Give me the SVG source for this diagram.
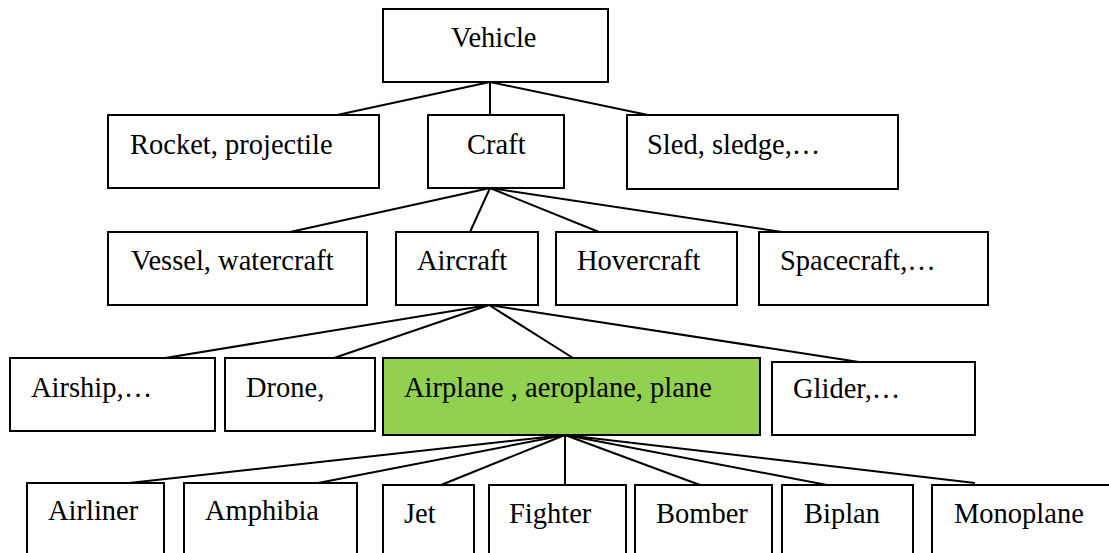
<svg xmlns="http://www.w3.org/2000/svg" width="1109" height="553" viewBox="0 0 1109 553">
<style>
.box{fill:#fff;stroke:#000;stroke-width:2}
.hl{fill:#92D050;stroke:#000;stroke-width:2}
.t{font-family:"Liberation Serif","Times New Roman",serif;font-size:28.5px;fill:#000}
.c line{stroke:#000;stroke-width:2}
</style>
<rect width="1109" height="553" fill="#fff"/>
<g class="c" id="connectors">
<line x1="490" y1="82" x2="337" y2="115"/>
<line x1="490" y1="82" x2="490" y2="115"/>
<line x1="490" y1="82" x2="648" y2="115"/>
<line x1="490" y1="188" x2="290" y2="232"/>
<line x1="490" y1="188" x2="470" y2="232"/>
<line x1="490" y1="188" x2="599" y2="232"/>
<line x1="490" y1="188" x2="782" y2="232"/>
<line x1="489" y1="305" x2="165" y2="358"/>
<line x1="489" y1="305" x2="334" y2="358"/>
<line x1="489" y1="305" x2="573" y2="358"/>
<line x1="489" y1="305" x2="859" y2="362"/>
<line x1="565" y1="435" x2="129" y2="483"/>
<line x1="565" y1="435" x2="318" y2="483"/>
<line x1="565" y1="435" x2="441" y2="485"/>
<line x1="565" y1="435" x2="565" y2="485"/>
<line x1="565" y1="435" x2="700" y2="485"/>
<line x1="565" y1="435" x2="827" y2="485"/>
<line x1="565" y1="435" x2="975" y2="483"/>
</g>
<g id="vehicle"><rect class="box" x="383" y="9" width="225" height="73"/><text class="t" x="451" y="47">Vehicle</text></g>
<g id="rocket"><rect class="box" x="108" y="115" width="271" height="73"/><text class="t" x="130" y="154">Rocket, projectile</text></g>
<g id="craft"><rect class="box" x="428" y="115" width="136" height="73"/><text class="t" x="467" y="154">Craft</text></g>
<g id="sled"><rect class="box" x="627" y="115" width="271" height="74"/><text class="t" x="647" y="154">Sled, sledge,…</text></g>
<g id="vessel"><rect class="box" x="108" y="232" width="259" height="73"/><text class="t" x="131" y="270">Vessel, watercraft</text></g>
<g id="aircraft"><rect class="box" x="396" y="232" width="142" height="73"/><text class="t" x="417" y="270">Aircraft</text></g>
<g id="hovercraft"><rect class="box" x="556" y="232" width="181" height="73"/><text class="t" x="577" y="270">Hovercraft</text></g>
<g id="spacecraft"><rect class="box" x="759" y="232" width="229" height="73"/><text class="t" x="780" y="270">Spacecraft,…</text></g>
<g id="airship"><rect class="box" x="10" y="358" width="205" height="73"/><text class="t" x="31" y="397">Airship,…</text></g>
<g id="drone"><rect class="box" x="225" y="358" width="150" height="73"/><text class="t" x="246" y="397">Drone,</text></g>
<g id="airplane"><rect class="hl" x="383" y="358" width="377" height="77"/><text class="t" x="404" y="397">Airplane , aeroplane, plane</text></g>
<g id="glider"><rect class="box" x="772" y="362" width="203" height="73"/><text class="t" x="793" y="398">Glider,…</text></g>
<g id="airliner"><rect class="box" x="27" y="483" width="137" height="80"/><text class="t" x="48" y="520">Airliner</text></g>
<g id="amphibia"><rect class="box" x="184" y="483" width="173" height="80"/><text class="t" x="205" y="520">Amphibia</text></g>
<g id="jet"><rect class="box" x="383" y="485" width="91" height="80"/><text class="t" x="404" y="523">Jet</text></g>
<g id="fighter"><rect class="box" x="489" y="485" width="137" height="80"/><text class="t" x="509" y="523">Fighter</text></g>
<g id="bomber"><rect class="box" x="635" y="485" width="137" height="80"/><text class="t" x="656" y="523">Bomber</text></g>
<g id="biplan"><rect class="box" x="782" y="485" width="131" height="80"/><text class="t" x="804" y="523">Biplan</text></g>
<g id="monoplane"><rect class="box" x="932" y="485" width="190" height="80"/><text class="t" x="954" y="523">Monoplane</text></g>
</svg>
